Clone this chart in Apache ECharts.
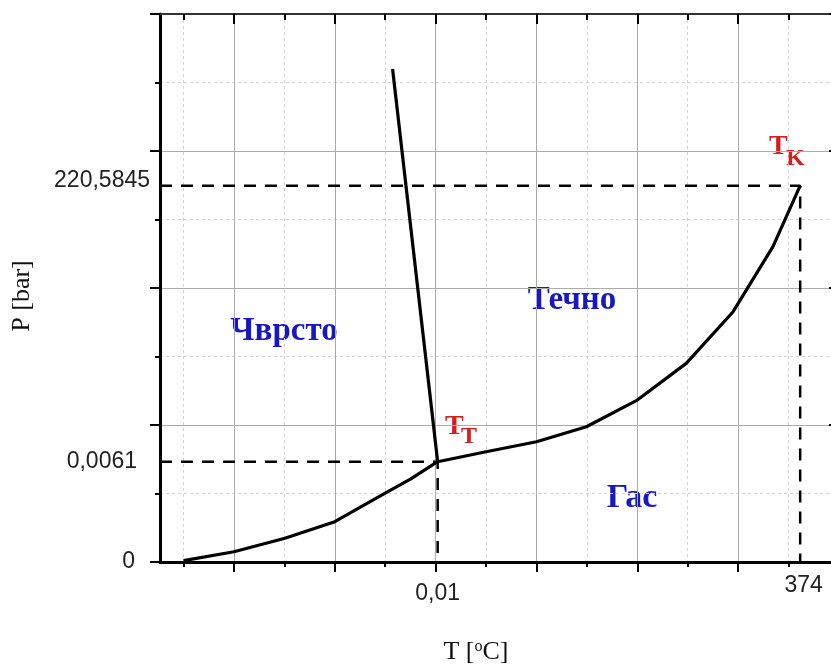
<!DOCTYPE html>
<html><head><meta charset="utf-8">
<script src="https://cdn.jsdelivr.net/npm/echarts@6/dist/echarts.min.js"></script>
<style>html,body{margin:0;padding:0;background:#fff}#c{width:831px;height:666px}</style>
</head><body><div id="c"></div>
<script>
// Schematic (non-linear) phase diagram of water, in grid units
const X_MIN = -1.467, X_MAX = 12;
const Y_MIN = 0, Y_MAX = 8;
// tick positions
const X_MAJOR_TICKS = [0, 2, 4, 6, 8, 10, 12];
const X_MINOR_TICKS = [-1, 1, 3, 5, 7, 9, 11];
// tick labels
const T_LABELS = ['0,01', '374'];
const T_LABEL_POS = [4.04, 11.3];
const P_LABELS = ['0', '0,0061', '220,5845'];
const P_LABEL_POS = [0, 1.464, 5.494];
// key points
const TRIPLE = [4.04, 1.464];
const CRITICAL = [11.23, 5.494];
// curves
const SUBLIMATION_T = [-1, 0, 1.01, 2.0, 2.99, 3.5, 4.04];
const SUBLIMATION_P = [0.02, 0.15, 0.346, 0.588, 1.003, 1.21, 1.464];
const MELTING_T = [4.04, 3.146];
const MELTING_P = [1.464, 7.197];
const VAPOR_T = [4.04, 5.0, 6.0, 6.99, 7.98, 8.97, 9.90, 10.69, 11.23];
const VAPOR_P = [1.464, 1.61, 1.756, 1.975, 2.355, 2.90, 3.654, 4.603, 5.494];

const zip = (a, b) => a.map((v, i) => [v, b[i]]);
const nearest = (arr, v) => { let bi = 0; arr.forEach((p, i) => { if (Math.abs(p - v) < Math.abs(arr[bi] - v)) bi = i; }); return bi; };

const BLUE = '#1717c4', RED = '#d41e1e';
const MAJOR_GRID = { color: '#ababab', width: 1 };
const MINOR_GRID = { color: '#d2d2d2', width: 1, type: [3, 3] };
const serif = 'Liberation Serif', sans = 'Liberation Sans';
const LF = 23;

const chart = echarts.init(document.getElementById('c'), null, { renderer: 'canvas' });
chart.setOption({
  animation: false,
  backgroundColor: '#fff',
  grid: { left: 160, right: -8, top: 14, bottom: 104, containLabel: false, outerBoundsMode: 'none' },
  xAxis: [
    { type: 'value', min: X_MIN, max: X_MAX, position: 'bottom',
      axisLine: { show: true, onZero: false, lineStyle: { color: '#000', width: 3 } },
      axisTick: { show: true, customValues: X_MAJOR_TICKS, length: 10, lineStyle: { color: '#000', width: 2 } },
      axisLabel: { show: true, customValues: T_LABEL_POS, margin: 12, color: '#222', fontSize: LF, fontFamily: sans,
        formatter: v => { const i = nearest(T_LABEL_POS, v); return '{k' + i + '|' + T_LABELS[i] + '}'; },
        rich: { k0: { padding: [8, 0, 0, 0], fontSize: LF, fontFamily: sans, color: '#222' },
                k1: { fontSize: LF, fontFamily: sans, color: '#222' } } },
      splitLine: { show: true, lineStyle: MAJOR_GRID } },
    { type: 'value', min: X_MIN, max: X_MAX, position: 'bottom',
      axisLine: { show: false, onZero: false },
      axisTick: { show: true, customValues: X_MINOR_TICKS, length: 5, lineStyle: { color: '#000', width: 2 } },
      axisLabel: { show: false },
      splitLine: { show: true, lineStyle: MINOR_GRID } },
    { type: 'value', min: X_MIN, max: X_MAX, position: 'top',
      axisLine: { show: true, onZero: false, lineStyle: { color: '#333', width: 2 } },
      axisTick: { show: true, inside: true, customValues: X_MAJOR_TICKS, length: 10, lineStyle: { color: '#000', width: 2 } },
      axisLabel: { show: false }, splitLine: { show: false } },
    { type: 'value', min: X_MIN, max: X_MAX, position: 'top',
      axisLine: { show: false, onZero: false },
      axisTick: { show: true, inside: true, customValues: X_MINOR_TICKS, length: 6, lineStyle: { color: '#000', width: 2 } },
      axisLabel: { show: false }, splitLine: { show: false } }
  ],
  yAxis: [
    { type: 'value', min: Y_MIN, max: Y_MAX, interval: 2, position: 'left',
      axisLine: { show: true, onZero: false, lineStyle: { color: '#000', width: 3 } },
      axisTick: { show: true, length: 10, lineStyle: { color: '#000', width: 2 } },
      minorTick: { show: true, splitNumber: 2, length: 5, lineStyle: { color: '#000', width: 2 } },
      splitLine: { show: true, lineStyle: MAJOR_GRID },
      minorSplitLine: { show: true, lineStyle: MINOR_GRID },
      axisLabel: { show: true, customValues: P_LABEL_POS, margin: 10, color: '#222', fontSize: LF, fontFamily: sans,
        formatter: v => { const i = nearest(P_LABEL_POS, v); return '{k' + i + '|' + P_LABELS[i] + '}'; },
        rich: { k0: { padding: [0, 15, 0, 0], fontSize: LF, fontFamily: sans, color: '#222' },
                k1: { padding: [0, 13, 0, 0], fontSize: LF, fontFamily: sans, color: '#222' },
                k2: { padding: [0, 0, 11, 0], fontSize: LF, fontFamily: sans, color: '#222' } } } },
    { type: 'value', min: Y_MIN, max: Y_MAX, interval: 2, position: 'right',
      axisLine: { show: true, onZero: false, lineStyle: { color: '#000', width: 3 } },
      axisTick: { show: true, inside: true, length: 10, lineStyle: { color: '#000', width: 2 } },
      minorTick: { show: true, splitNumber: 2, length: 5, lineStyle: { color: '#000', width: 2 } },
      splitLine: { show: false }, axisLabel: { show: false } }
  ],
  series: [
    { type: 'line', name: 'triple-dash', symbol: 'none', silent: true, z: 3,
      data: [[X_MIN, TRIPLE[1]], TRIPLE, [TRIPLE[0], Y_MIN]],
      lineStyle: { color: '#000', width: 2.5, type: [12, 9] } },
    { type: 'line', name: 'critical-dash', symbol: 'none', silent: true, z: 3,
      data: [[X_MIN, CRITICAL[1]], CRITICAL, [CRITICAL[0], Y_MIN]],
      lineStyle: { color: '#000', width: 2.5, type: [12, 9] } },
    { type: 'line', name: 'sublimation', symbol: 'none', z: 4, data: zip(SUBLIMATION_T, SUBLIMATION_P),
      lineStyle: { color: '#000', width: 3.2 } },
    { type: 'line', name: 'melting', symbol: 'none', z: 4, data: zip(MELTING_T, MELTING_P),
      lineStyle: { color: '#000', width: 3.2 } },
    { type: 'line', name: 'vaporization', symbol: 'none', z: 4, data: zip(VAPOR_T, VAPOR_P),
      lineStyle: { color: '#000', width: 3.2 } }
  ],
  graphic: [
    { type: 'text', x: 284, y: 331, style: { text: 'Чврсто', fill: BLUE, font: 'bold 33px "Liberation Serif"', align: 'center', verticalAlign: 'middle' } },
    { type: 'text', x: 572, y: 300, style: { text: 'Течно', fill: BLUE, font: 'bold 33px "Liberation Serif"', align: 'center', verticalAlign: 'middle' } },
    { type: 'text', x: 632, y: 498, style: { text: 'Гас', fill: BLUE, font: 'bold 34px "Liberation Serif"', align: 'center', verticalAlign: 'middle' } },
    { type: 'text', x: 445, y: 427, style: { text: 'T', fill: RED, font: 'bold 28px "Liberation Serif"', align: 'left', verticalAlign: 'middle' } },
    { type: 'text', x: 461, y: 437, style: { text: 'T', fill: RED, font: 'bold 24px "Liberation Serif"', align: 'left', verticalAlign: 'middle' } },
    { type: 'text', x: 769, y: 147, style: { text: 'T', fill: RED, font: 'bold 28px "Liberation Serif"', align: 'left', verticalAlign: 'middle' } },
    { type: 'text', x: 786, y: 159, style: { text: 'K', fill: RED, font: 'bold 24px "Liberation Serif"', align: 'left', verticalAlign: 'middle' } },
    { type: 'text', x: 22, y: 296, rotation: Math.PI / 2, style: { text: 'P [bar]', fill: '#111', font: '26px "Liberation Serif"', align: 'center', verticalAlign: 'middle' } },
    { type: 'text', x: 476, y: 652, style: { text: 'T [{s|o}C]', fill: '#111', font: '26px "Liberation Serif"', align: 'center', verticalAlign: 'middle',
        rich: { s: { fontSize: 16, fontFamily: serif, fill: '#111', verticalAlign: 'top', padding: [0, 0, 10, 0] } } } }
  ]
});
</script>
</body></html>
